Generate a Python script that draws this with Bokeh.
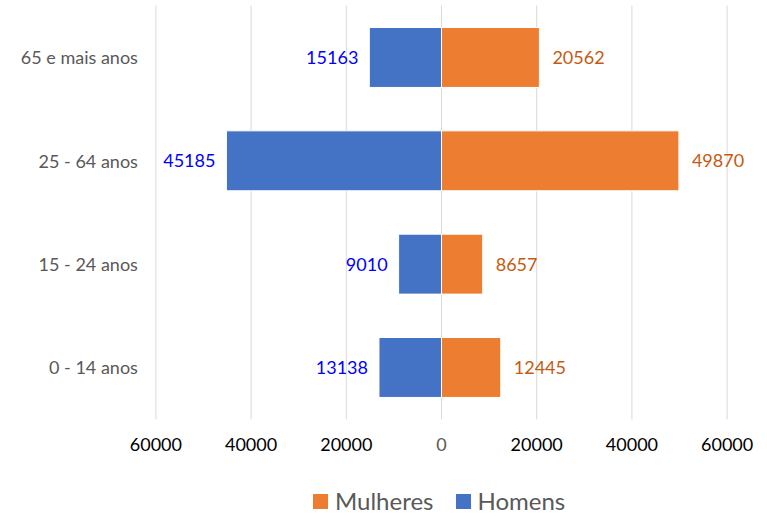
from bokeh.plotting import figure
from bokeh.models import ColumnDataSource, Legend, LegendItem, Range1d
from bokeh.core.properties import value
from bokeh.embed import file_html
from bokeh.resources import INLINE

categories = ["0 - 14 anos", "15 - 24 anos", "25 - 64 anos", "65 e mais anos"]
homens = [13138, 9010, 45185, 15163]
mulheres = [12445, 8657, 49870, 20562]
tick_values = [-60000, -40000, -20000, 0, 20000, 40000, 60000]
tick_labels = ["60000", "40000", "20000", "0", "20000", "40000", "60000"]

FONT = "Lato"
ypos = list(range(len(categories)))
BAND_LO, BAND_HI = -0.503, 3.503   # extent of the category bands (grid extent)
AXIS_MIN = min(tick_values)

src = ColumnDataSource(dict(
    y=ypos,
    h_neg=[-v for v in homens],
    h=homens,
    m=mulheres,
    h_lbl=[str(v) for v in homens],
    m_lbl=[str(v) for v in mulheres],
    cat=categories,
    axis_x=[AXIS_MIN] * len(categories),
))

tick_src = ColumnDataSource(dict(
    x=tick_values,
    y0=[BAND_LO] * len(tick_values),
    y1=[BAND_HI] * len(tick_values),
    lbl=tick_labels,
    col=["#595959" if v == 0 else "#000000" for v in tick_values],
))

p = figure(width=765, height=515, output_backend="svg", toolbar_location=None,
           x_range=Range1d(-92641, 68061), y_range=Range1d(-1.4325, 3.5514),
           min_border_left=0, min_border_right=0, min_border_top=0, min_border_bottom=0,
           x_axis_location=None, y_axis_location=None)
p.outline_line_color = None
p.background_fill_color = "white"
p.border_fill_color = "white"
p.xgrid.grid_line_color = None
p.ygrid.grid_line_color = None

# vertical gridlines
p.segment(x0="x", y0="y0", x1="x", y1="y1", source=tick_src,
          line_color="#D9D9D9", line_width=1)

hb = p.hbar(y="y", left="h_neg", right=0, height=0.58, source=src,
            fill_color="#4472C4", line_color="white", line_width=1)
mb = p.hbar(y="y", left=0, right="m", height=0.58, source=src,
            fill_color="#ED7D31", line_color="white", line_width=1)

# data labels
p.text(x="h_neg", y="y", text="h_lbl", source=src, x_offset=-11,
       text_align="right", text_baseline="middle", text_color="#0000FF",
       text_font=value(FONT), text_font_size="18px")
p.text(x="m", y="y", text="m_lbl", source=src, x_offset=13,
       text_align="left", text_baseline="middle", text_color="#C55A11",
       text_font=value(FONT), text_font_size="18px")

# category labels (y axis)
p.text(x="axis_x", y="y", text="cat", source=src, x_offset=-18,
       text_align="right", text_baseline="middle", text_color="#595959",
       text_font=value(FONT), text_font_size="18px")

# x tick labels
p.text(x="x", y="y0", text="lbl", source=tick_src, y_offset=25,
       text_align="center", text_baseline="middle", text_color="col",
       text_font=value(FONT), text_font_size="18px")

legend = Legend(items=[LegendItem(label="Mulheres", renderers=[mb]),
                       LegendItem(label="Homens", renderers=[hb])],
                orientation="horizontal", location=(310, 0),
                label_text_font=FONT, label_text_font_size="24px",
                label_text_color="#595959", glyph_width=20, glyph_height=20,
                spacing=19, padding=0, border_line_color=None,
                background_fill_alpha=0, label_standoff=5)
p.add_layout(legend)

open("out.html", "w").write(file_html(p, INLINE))
